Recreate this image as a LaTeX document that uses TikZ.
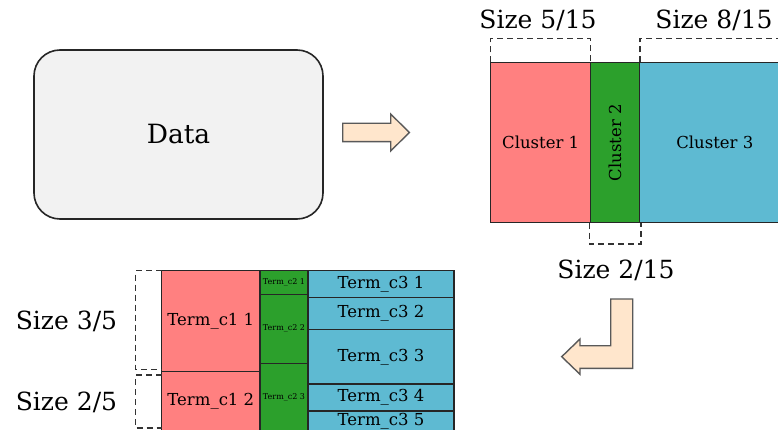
\documentclass[tikz,border=0pt]{standalone}
\usepackage{fontspec}
\setmainfont{DejaVu Serif}
\usepackage{tikz}
\usepackage{xcolor}
\usetikzlibrary{positioning}
\definecolor{clred}{HTML}{FF8080}
\definecolor{clgreen}{HTML}{2CA02C}
\definecolor{clblue}{HTML}{5EBAD2}
\definecolor{blockfill}{HTML}{FFE6CC}
\definecolor{datafill}{HTML}{F2F2F2}
\tikzset{cell/.style={draw=black!85, line width=1.5pt, inner sep=0pt, outer sep=0pt,
anchor=north west, font=\fontsize{16.5}{19}\selectfont},
tiny/.style={font=\fontsize{8}{9}\selectfont},
sizelabel/.style={font=\fontsize{25}{29}\selectfont, inner sep=0pt}}

\begin{document}
\begin{tikzpicture}[x=1pt, y=-1pt, bracket/.style={draw=black!80, line width=1.3pt, dash pattern=on 6pt off 4pt},
	blockarrow/.style={draw=black!65, line width=1.4pt, fill=blockfill, line join=miter}]
	\useasboundingbox (0,0) rectangle (778,430);
	\node[draw=black!85, line width=1.6pt, fill=datafill, rounded corners=26pt, minimum width=289pt,
		minimum height=169pt, font=\fontsize{26.5}{30}\selectfont] (data) at (178.5,134.5) {Data};
	\draw[blockarrow] (342.7,123.3) -- (390.7,123.3) -- (390.7,114) -- (409.3,132.5) -- (390.7,151)
		-- (390.7,141.7) -- (342.7,141.7) -- cycle;
	\node[cell, fill=clred, minimum width=100pt, minimum height=160.4pt] (c1) at (490.7,62.3) {Cluster 1};
	\node[cell, fill=clgreen, minimum width=48.6pt, minimum height=160.4pt, anchor=west, right=0pt of c1] (c2) {\rotatebox{90}{Cluster 2}};
	\node[cell, fill=clblue, minimum width=151pt, minimum height=160.4pt, anchor=west, right=0pt of c2] (c3) {Cluster 3};
	\draw[bracket] (c1.north west) -- (490.7,38.7) -- (590.7,38.7) -- (590.7,62.3);
	\draw[bracket] (640,62.3) -- (640,38.7) -- (790,38.7);
	\draw[bracket] (589.7,222.7) -- (589.7,244) -- (641,244) -- (641,222.7);
	\node[sizelabel] (s515) at (538,20) {Size 5/15};
	\node[sizelabel] (s815) at (714,20) {Size 8/15};
	\node[sizelabel] (s215) at (616,270) {Size 2/15};
	\draw[blockarrow] (610.7,299) -- (632.7,299) -- (632.7,368.3) -- (580,368.3) -- (580,374.3) -- (561.7,356.7)
		-- (580,339) -- (580,345.7) -- (610.7,345.7) -- cycle;
	\node[cell, fill=clred, minimum width=98.3pt, minimum height=101pt] (t11) at (161.7,270.7) {Term\_c1 1};
	\node[cell, fill=clred, minimum width=98.3pt, minimum height=59.3pt, below=0pt of t11] (t12) {Term\_c1 2};
	\node[cell, tiny, fill=clgreen, minimum width=48pt, minimum height=23.6pt] (t21) at (260,270.7) {Term\_c2 1};
	\node[cell, tiny, fill=clgreen, minimum width=48pt, minimum height=69pt, below=0pt of t21] (t22) {Term\_c2 2};
	\node[cell, tiny, fill=clgreen, minimum width=48pt, minimum height=67.7pt, below=0pt of t22] (t23) {Term\_c2 3};
	\node[cell, fill=clblue, minimum width=146pt, minimum height=27pt] (t31) at (308,270.7) {Term\_c3 1};
	\node[cell, fill=clblue, minimum width=146pt, minimum height=32pt, below=0pt of t31] (t32) {Term\_c3 2};
	\node[cell, fill=clblue, minimum width=146pt, minimum height=54.3pt, below=0pt of t32] (t33) {Term\_c3 3};
	\node[cell, fill=clblue, minimum width=146pt, minimum height=27pt, below=0pt of t33] (t34) {Term\_c3 4};
	\node[cell, fill=clblue, minimum width=146pt, minimum height=20pt, below=0pt of t34] (t35) {Term\_c3 5};
	\draw[bracket] (t11.north west) -- (135.7,270.7) -- (135.7,369.3) -- (161.7,369.3);
	\draw[bracket] (161.7,375) -- (135.7,375) -- (135.7,428) -- (161.7,428);
	\node[sizelabel] (s35) at (66.5,321) {Size 3/5};
	\node[sizelabel] (s25) at (66.5,402) {Size 2/5};
\end{tikzpicture}
\end{document}
